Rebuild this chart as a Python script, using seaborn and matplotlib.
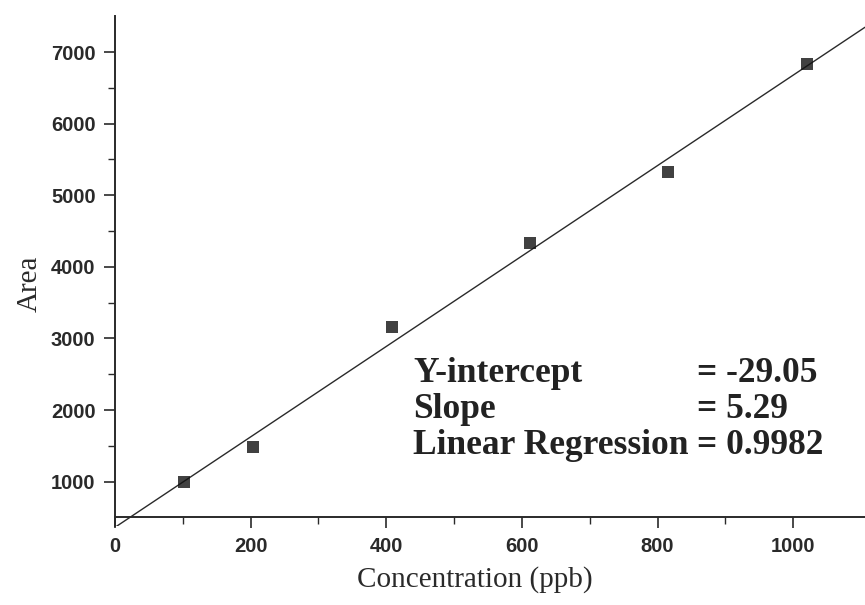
import matplotlib
matplotlib.use("Agg")
import matplotlib.pyplot as plt
import seaborn as sns
import pandas as pd
from matplotlib.ticker import FixedLocator

concentration = [102, 204, 408, 612, 816, 1020]
area = [1000, 1487, 3159, 4329, 5331, 6836]
x_ticks = [0, 200, 400, 600, 800, 1000]
x_minor = [100, 300, 500, 700, 900]
y_ticks = [1000, 2000, 3000, 4000, 5000, 6000, 7000]
y_minor = [1500, 2500, 3500, 4500, 5500, 6500]
stat_names = ["Y-intercept", "Slope", "Linear Regression"]
stat_values = ["= -29.05", "= 5.29", "= 0.9982"]

df = pd.DataFrame({"Concentration (ppb)": concentration, "Area": area})

sns.set_style("ticks")
plt.rcParams["font.family"] = ["Liberation Sans", "DejaVu Sans"]

fig = plt.figure(figsize=(8.65, 6.05), dpi=100)
ax = fig.add_axes([0.133, 0.1306, 0.867, 0.8424])
ax.set_xlim(0, 1106)
ax.set_ylim(380, 7500)

sns.regplot(data=df, x="Concentration (ppb)", y="Area", ax=ax, ci=None,
            truncate=False, marker="s",
            scatter_kws=dict(s=75, color="#111111", edgecolors="none", zorder=3),
            line_kws=dict(color="#2a2a2a", lw=1.0))

ax.set_xlim(0, 1106)
ax.set_ylim(380, 7500)
ax.spines["bottom"].set_position(("data", 500))
ax.spines["top"].set_visible(False)
ax.spines["right"].set_visible(False)
for s in ("left", "bottom"):
    ax.spines[s].set_color("#2a2a2a")
    ax.spines[s].set_linewidth(1.4)

ax.set_xticks(x_ticks)
ax.set_yticks(y_ticks)
ax.xaxis.set_minor_locator(FixedLocator(x_minor))
ax.yaxis.set_minor_locator(FixedLocator(y_minor))
ax.tick_params(which="major", length=8, width=1.2, color="#2a2a2a",
               labelsize=14.5, labelcolor="#2a2a2a", pad=6)
ax.tick_params(which="minor", length=5, width=1.0, color="#2a2a2a")
for lab in ax.get_xticklabels() + ax.get_yticklabels():
    lab.set_fontweight("bold")

ax.set_xlabel("Concentration (ppb)", family="Liberation Serif", fontsize=21,
              color="#2a2a2a")
ax.set_ylabel("Area", family="Liberation Serif", fontsize=21,
              color="#2a2a2a")
ax.xaxis.set_label_coords(0.48, -0.078)
ax.yaxis.set_label_coords(-0.097, 0.475)

ys = [0.369, 0.309, 0.250]
for name, val, yy in zip(stat_names, stat_values, ys):
    fig.text(0.478, yy, name, family="Liberation Serif", fontsize=25.5,
             fontweight="bold", color="#222222", va="baseline")
    fig.text(0.806, yy, val, family="Liberation Serif", fontsize=25.5,
             fontweight="bold", color="#222222", va="baseline")

fig.savefig("out.png", dpi=100)
